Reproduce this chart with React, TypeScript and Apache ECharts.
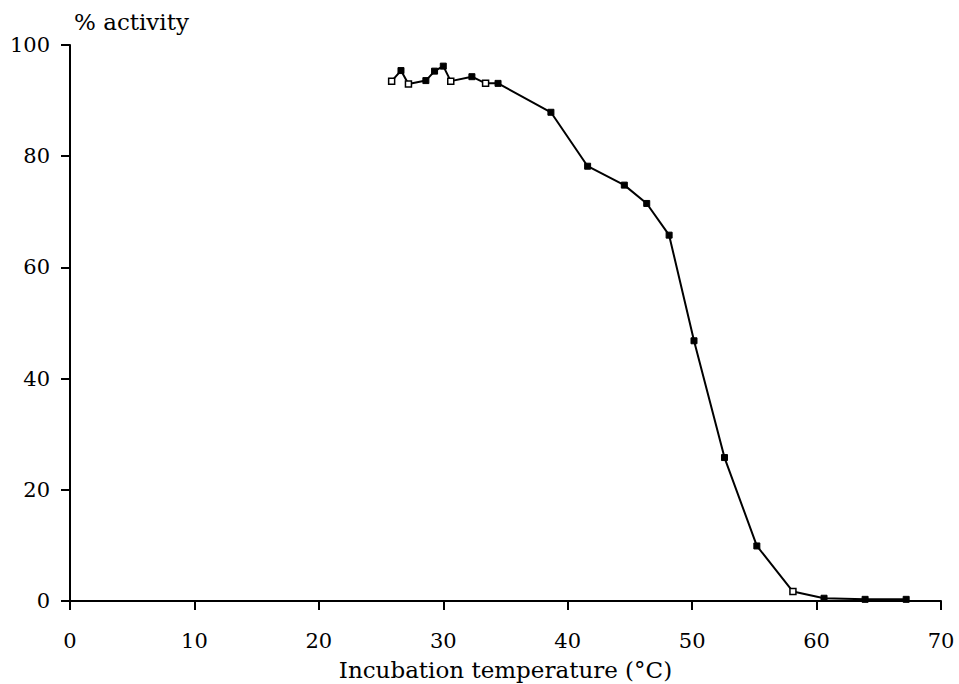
import React, { useEffect, useRef } from "react";
import * as echarts from "echarts";

const temperatures = [25.85, 26.6, 27.2, 28.6, 29.3, 30.0, 30.6, 32.3, 33.4, 34.4, 38.65, 41.6, 44.55, 46.35, 48.15, 50.15, 52.6, 55.2, 58.1, 60.6, 63.9, 67.2];
const activity = [93.5, 95.4, 93.0, 93.6, 95.3, 96.2, 93.5, 94.3, 93.1, 93.1, 87.9, 78.2, 74.8, 71.5, 65.8, 46.8, 25.8, 9.9, 1.7, 0.5, 0.3, 0.3];
const hollowPoints = [0, 2, 6, 8, 18];
const xTicks = [0, 10, 20, 30, 40, 50, 60, 70];
const yTicks = [0, 20, 40, 60, 80, 100];

const FONT = "DejaVu Serif";

export default function App() {
  const ref = useRef<HTMLDivElement>(null);
  useEffect(() => {
    if (!ref.current) return;
    const chart = echarts.init(ref.current, null, { renderer: "svg" });
    const data = temperatures.map((t, i) => ({
      value: [t, activity[i]],
      itemStyle: hollowPoints.includes(i)
        ? { color: "#fff", borderColor: "#000", borderWidth: 1.5 }
        : { color: "#000", borderColor: "#000", borderWidth: 1 },
    }));
    chart.setOption({
      animation: false,
      backgroundColor: "#fff",
      grid: { left: 70, right: 18, top: 45, bottom: 83, containLabel: false, outerBoundsMode: "none" },
      xAxis: {
        type: "value",
        min: xTicks[0],
        max: xTicks[xTicks.length - 1],
        interval: 10,
        name: "Incubation temperature (°C)",
        nameLocation: "middle",
        nameGap: 57,
        nameTextStyle: { fontFamily: FONT, fontSize: 23, color: "#000" },
        axisLine: { show: true, onZero: false, lineStyle: { color: "#000", width: 2 } },
        axisTick: { show: true, inside: false, length: 9, lineStyle: { color: "#000", width: 2 } },
        axisLabel: { fontFamily: FONT, fontSize: 21, color: "#000", margin: 29 },
        splitLine: { show: false },
      },
      yAxis: {
        type: "value",
        min: yTicks[0],
        max: yTicks[yTicks.length - 1],
        interval: 20,
        name: "% activity",
        nameLocation: "end",
        nameGap: 12,
        nameTextStyle: { fontFamily: FONT, fontSize: 23, color: "#000", align: "left", padding: [0, 0, 0, 4] },
        axisLine: { show: true, onZero: false, lineStyle: { color: "#000", width: 2 } },
        axisTick: { show: true, inside: false, length: 9, lineStyle: { color: "#000", width: 2 } },
        axisLabel: { fontFamily: FONT, fontSize: 21, color: "#000", margin: 20 },
        splitLine: { show: false },
      },
      series: [
        {
          type: "line",
          data,
          symbol: "rect",
          symbolSize: 6,
          lineStyle: { color: "#000", width: 2 },
          itemStyle: { color: "#000" },
          z: 3,
        },
      ],
    });
    return () => chart.dispose();
  }, []);
  return (
    <div
      ref={ref}
      style={{ position: "fixed", left: 0, top: 0, width: 959, height: 684, background: "#fff" }}
    />
  );
}
